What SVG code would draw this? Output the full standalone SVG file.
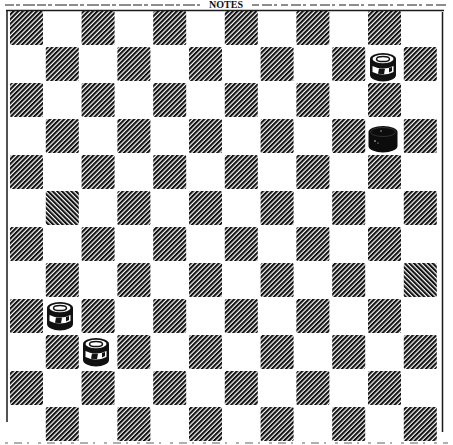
<svg xmlns="http://www.w3.org/2000/svg" xmlns:xlink="http://www.w3.org/1999/xlink" width="453" height="445" viewBox="0 0 453 445">
<defs>
<pattern id="h1" patternUnits="userSpaceOnUse" width="3.3" height="3.3" patternTransform="rotate(45)"><rect width="2.1" height="3.3" fill="#111"/></pattern>
<pattern id="h2" patternUnits="userSpaceOnUse" width="3.3" height="3.3" patternTransform="rotate(-45)"><rect width="2.1" height="3.3" fill="#111"/></pattern>
<g id="wp">
<path d="M-13,-8 L-13,8 A13,6.5 0 0 0 13,8 L13,-8 A13,6 0 0 0 -13,-8 Z" fill="#111"/>
<ellipse cx="0" cy="-8" rx="10.5" ry="4.2" fill="#fff"/>
<ellipse cx="0" cy="-8" rx="6.5" ry="2.6" fill="none" stroke="#111" stroke-width="1.5"/>
<path d="M-10.5,-1 Q0,4 10.5,-1 L10.5,5 Q0,10 -10.5,5 Z" fill="#fff"/>
<path d="M-4,1.5 L2,1.8 L1,7.2 L-5,6.8 Z" fill="#111"/>
<path d="M6,1 L9,0 L9,4 L6,5.5 Z" fill="#111"/>
</g>
<g id="bp">
<path d="M-14.5,-7 L-14.5,7 A14.5,6.5 0 0 0 14.5,7 L14.5,-7 A14.5,6 0 0 0 -14.5,-7 Z" fill="#0c0c0c"/>
<ellipse cx="0" cy="-7" rx="12.5" ry="4.5" fill="none" stroke="#3a3a3a" stroke-width="0.8"/>
<circle cx="-8" cy="2" r="0.8" fill="#ddd"/><circle cx="-5" cy="4" r="0.6" fill="#ddd"/><circle cx="-2" cy="-8" r="0.7" fill="#ccc"/>
</g>
</defs>
<style>
.d{fill:url(#h1)}
.rev{fill:url(#h2)}
.bd{stroke:#1a1a1a;fill:none}
</style>
<rect width="453" height="445" fill="#fff"/>
<g id="title"><text x="226" y="8" text-anchor="middle" font-family="Liberation Serif, serif" font-weight="bold" font-size="10" fill="#111">NOTES</text></g>
<g id="frame">
<line class="bd" x1="5" y1="5" x2="200" y2="5" stroke-width="1" stroke-dasharray="9 2 4 3 12 2"/>
<line class="bd" x1="252" y1="5" x2="448" y2="5" stroke-width="1" stroke-dasharray="7 3 10 2 3 4"/>
<line class="bd" x1="6" y1="10.5" x2="444" y2="10.5" stroke-width="1.3"/>
<line class="bd" x1="7" y1="10" x2="7" y2="422" stroke-width="1.5"/>
<line class="bd" x1="442.5" y1="12" x2="442.5" y2="432" stroke-width="1.5"/>
<line class="bd" x1="5" y1="443" x2="448" y2="443" stroke-width="0.7" stroke-dasharray="3 6 8 5 2 9"/>
</g>
<g id="board">
<rect class="d" x="10" y="11" width="33" height="34" rx="1.5"/><rect class="d" x="81.6" y="11" width="33" height="34" rx="1.5"/><rect class="d" x="153.2" y="11" width="33" height="34" rx="1.5"/><rect class="d" x="224.8" y="11" width="33" height="34" rx="1.5"/><rect class="d" x="296.4" y="11" width="33" height="34" rx="1.5"/><rect class="d" x="368" y="11" width="33" height="34" rx="1.5"/>
<rect class="d" x="45.8" y="47" width="33" height="34" rx="1.5"/><rect class="d" x="117.4" y="47" width="33" height="34" rx="1.5"/><rect class="d" x="189" y="47" width="33" height="34" rx="1.5"/><rect class="d" x="260.6" y="47" width="33" height="34" rx="1.5"/><rect class="d" x="332.2" y="47" width="33" height="34" rx="1.5"/><rect class="d" x="403.8" y="47" width="33" height="34" rx="1.5"/>
<rect class="d" x="10" y="83" width="33" height="34" rx="1.5"/><rect class="d" x="81.6" y="83" width="33" height="34" rx="1.5"/><rect class="d" x="153.2" y="83" width="33" height="34" rx="1.5"/><rect class="d" x="224.8" y="83" width="33" height="34" rx="1.5"/><rect class="d" x="296.4" y="83" width="33" height="34" rx="1.5"/><rect class="d" x="368" y="83" width="33" height="34" rx="1.5"/>
<rect class="d" x="45.8" y="119" width="33" height="34" rx="1.5"/><rect class="d" x="117.4" y="119" width="33" height="34" rx="1.5"/><rect class="d" x="189" y="119" width="33" height="34" rx="1.5"/><rect class="d" x="260.6" y="119" width="33" height="34" rx="1.5"/><rect class="d" x="332.2" y="119" width="33" height="34" rx="1.5"/><rect class="d" x="403.8" y="119" width="33" height="34" rx="1.5"/>
<rect class="d" x="10" y="155" width="33" height="34" rx="1.5"/><rect class="d" x="81.6" y="155" width="33" height="34" rx="1.5"/><rect class="d" x="153.2" y="155" width="33" height="34" rx="1.5"/><rect class="d" x="224.8" y="155" width="33" height="34" rx="1.5"/><rect class="d" x="296.4" y="155" width="33" height="34" rx="1.5"/><rect class="d" x="368" y="155" width="33" height="34" rx="1.5"/>
<rect class="rev" x="45.8" y="191" width="33" height="34" rx="1.5"/><rect class="d" x="117.4" y="191" width="33" height="34" rx="1.5"/><rect class="d" x="189" y="191" width="33" height="34" rx="1.5"/><rect class="d" x="260.6" y="191" width="33" height="34" rx="1.5"/><rect class="d" x="332.2" y="191" width="33" height="34" rx="1.5"/><rect class="d" x="403.8" y="191" width="33" height="34" rx="1.5"/>
<rect class="d" x="10" y="227" width="33" height="34" rx="1.5"/><rect class="d" x="81.6" y="227" width="33" height="34" rx="1.5"/><rect class="d" x="153.2" y="227" width="33" height="34" rx="1.5"/><rect class="d" x="224.8" y="227" width="33" height="34" rx="1.5"/><rect class="d" x="296.4" y="227" width="33" height="34" rx="1.5"/><rect class="d" x="368" y="227" width="33" height="34" rx="1.5"/>
<rect class="d" x="45.8" y="263" width="33" height="34" rx="1.5"/><rect class="d" x="117.4" y="263" width="33" height="34" rx="1.5"/><rect class="d" x="189" y="263" width="33" height="34" rx="1.5"/><rect class="d" x="260.6" y="263" width="33" height="34" rx="1.5"/><rect class="d" x="332.2" y="263" width="33" height="34" rx="1.5"/><rect class="rev" x="403.8" y="263" width="33" height="34" rx="1.5"/>
<rect class="d" x="10" y="299" width="33" height="34" rx="1.5"/><rect class="d" x="81.6" y="299" width="33" height="34" rx="1.5"/><rect class="d" x="153.2" y="299" width="33" height="34" rx="1.5"/><rect class="d" x="224.8" y="299" width="33" height="34" rx="1.5"/><rect class="d" x="296.4" y="299" width="33" height="34" rx="1.5"/><rect class="d" x="368" y="299" width="33" height="34" rx="1.5"/>
<rect class="d" x="45.8" y="335" width="33" height="34" rx="1.5"/><rect class="d" x="117.4" y="335" width="33" height="34" rx="1.5"/><rect class="d" x="189" y="335" width="33" height="34" rx="1.5"/><rect class="d" x="260.6" y="335" width="33" height="34" rx="1.5"/><rect class="d" x="332.2" y="335" width="33" height="34" rx="1.5"/><rect class="d" x="403.8" y="335" width="33" height="34" rx="1.5"/>
<rect class="d" x="10" y="371" width="33" height="34" rx="1.5"/><rect class="d" x="81.6" y="371" width="33" height="34" rx="1.5"/><rect class="d" x="153.2" y="371" width="33" height="34" rx="1.5"/><rect class="d" x="224.8" y="371" width="33" height="34" rx="1.5"/><rect class="d" x="296.4" y="371" width="33" height="34" rx="1.5"/><rect class="d" x="368" y="371" width="33" height="34" rx="1.5"/>
<rect class="d" x="45.8" y="407" width="33" height="34" rx="1.5"/><rect class="d" x="117.4" y="407" width="33" height="34" rx="1.5"/><rect class="d" x="189" y="407" width="33" height="34" rx="1.5"/><rect class="d" x="260.6" y="407" width="33" height="34" rx="1.5"/><rect class="d" x="332.2" y="407" width="33" height="34" rx="1.5"/><rect class="d" x="403.8" y="407" width="33" height="34" rx="1.5"/>
</g>
<g id="pieces">
<g id="white-1"><use xlink:href="#wp" x="383" y="67"/></g>
<g id="black-1"><use xlink:href="#bp" x="383" y="139"/></g>
<g id="white-2"><use xlink:href="#wp" x="60" y="316"/></g>
<g id="white-3"><use xlink:href="#wp" x="96" y="352"/></g>
</g>
</svg>
